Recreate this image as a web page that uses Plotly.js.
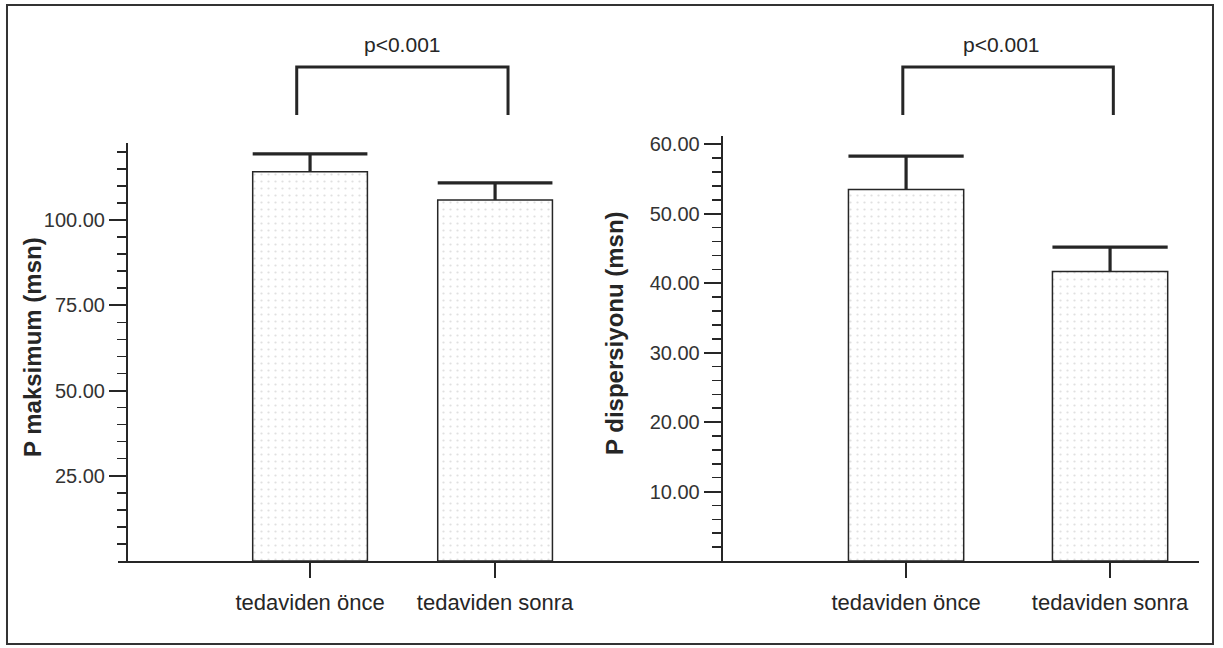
<!DOCTYPE html>
<html>
<head>
<meta charset="utf-8">
<script src="https://cdn.plot.ly/plotly-3.0.1.min.js"></script>
<style>html,body{margin:0;padding:0;background:#fff}#chart{width:1223px;height:648px}</style>
</head>
<body>
<div id="chart"></div>
<script>
// ---- data ----
var categories = ["tedaviden önce", "tedaviden sonra"];
var pMaxMean = [114.2, 105.9];
var pMaxErr = [5.2, 5.0];
var pDispMean = [53.5, 41.7];
var pDispErr = [4.8, 3.5];
var leftTitle = "P maksimum (msn)";
var rightTitle = "P dispersiyonu (msn)";
var pLabel = "p<0.001";
var leftTicks = [25, 50, 75, 100];
var rightTicks = [10, 20, 30, 40, 50, 60];

// ---- helpers ----
function minorVals(step, max, majors) {
  var v = [];
  for (var t = step; t <= max; t += step) {
    if (majors.indexOf(t) < 0) v.push(t);
  }
  return v;
}
var ink = "#262626";
var font = "Liberation Sans, Arial, Helvetica, sans-serif";

function barTrace(y, xa, ya, width) {
  return {
    type: "bar", x: [0, 1], y: y, xaxis: xa, yaxis: ya, width: width,
    marker: {
      color: "#ffffff",
      line: {color: ink, width: 1.5},
      pattern: {shape: ".", fgcolor: "#e0e0e0", bgcolor: "#ffffff", size: 7, solidity: 0.08}
    },
    hoverinfo: "skip", showlegend: false
  };
}
// error bar "T" (cap + stem) built from mean and error through the axis scale
function errTrace(mean, err, xa, ya, width) {
  var xs = [], ys = [];
  for (var i = 0; i < mean.length; i++) {
    var top = mean[i] + err[i];
    xs.push(i - width / 2, i + width / 2, null, i, i, null);
    ys.push(top, top, null, top, mean[i], null);
  }
  return {type: "scatter", mode: "lines", x: xs, y: ys, xaxis: xa, yaxis: ya,
    line: {color: ink, width: 3.2}, connectgaps: false, hoverinfo: "skip", showlegend: false, cliponaxis: false};
}

var data = [
  barTrace(pMaxMean, "x", "y", 0.62),
  barTrace(pDispMean, "x2", "y2", 0.565),
  errTrace(pMaxMean, pMaxErr, "x", "y", 0.62),
  errTrace(pDispMean, pDispErr, "x2", "y2", 0.565)
];

var yBot = 0.13426;
function xAxis(domain, range, anchor) {
  return {
    domain: domain, range: range, anchor: anchor,
    tickmode: "array", tickvals: [0, 1], ticktext: categories,
    showline: true, linecolor: ink, linewidth: 2,
    ticks: "outside", ticklen: 15, tickwidth: 2, tickcolor: ink, ticklabelstandoff: 6,
    tickfont: {family: font, size: 22, color: ink},
    showgrid: false, zeroline: false, fixedrange: true
  };
}
function yAxis(domain, range, pos, majors, step, max) {
  return {
    domain: domain, range: range, anchor: "free", position: pos,
    tickmode: "array", tickvals: majors, tickformat: ".2f",
    showline: true, linecolor: ink, linewidth: 2,
    ticks: "outside", ticklen: 17, tickwidth: 2, tickcolor: ink,
    tickfont: {family: font, size: 20, color: "#333"},
    minor: {tickmode: "array", tickvals: minorVals(step, max, majors), ticks: "outside",
      ticklen: 9, tickwidth: 1.5, tickcolor: ink, showgrid: false},
    showgrid: false, zeroline: false, fixedrange: true
  };
}

function bracket(xa, x0, x1) {
  return {type: "path", xref: xa, yref: "paper",
    path: "M " + x0 + " 0.8225 L " + x0 + " 0.8966 L " + x1 + " 0.8966 L " + x1 + " 0.8225",
    line: {color: ink, width: 3}};
}

var layout = {
  width: 1223, height: 648,
  margin: {l: 0, r: 0, t: 0, b: 0},
  paper_bgcolor: "#ffffff", plot_bgcolor: "rgba(0,0,0,0)",
  showlegend: false, barmode: "overlay",
  xaxis: xAxis([0.09648, 0.4865], [-1.038, 1.54], "y"),
  xaxis2: xAxis([0.4865, 0.98038], [-1.525, 1.436], "y2"),
  yaxis: yAxis([yBot, 0.77932], [0, 122.6], 0.10384, leftTicks, 5, 120),
  yaxis2: yAxis([yBot, 0.79012], [0, 61.2], 0.5901, rightTicks, 2, 60),
  shapes: [
    {type: "rect", xref: "paper", yref: "paper", x0: 0.00572, x1: 0.99182, y0: 0.00617, y1: 0.9923,
      line: {color: "#333", width: 2}},
    bracket("x", -0.072, 1.07),
    bracket("x2", -0.016, 1.016)
  ],
  annotations: [
    {text: pLabel, xref: "x", yref: "paper", x: 0.5, y: 1 - 45 / 648, xanchor: "center", yanchor: "middle",
      showarrow: false, font: {family: font, size: 21, color: ink}},
    {text: pLabel, xref: "x2", yref: "paper", x: 0.47, y: 1 - 45 / 648, xanchor: "center", yanchor: "middle",
      showarrow: false, font: {family: font, size: 21, color: ink}},
    {text: "<b>" + leftTitle + "</b>", xref: "paper", yref: "paper", x: 32 / 1223, y: 1 - 347 / 648,
      xanchor: "center", yanchor: "middle",
      textangle: -90, showarrow: false, font: {family: font, size: 24, color: ink}},
    {text: "<b>" + rightTitle + "</b>", xref: "paper", yref: "paper", x: 615 / 1223, y: 1 - 333 / 648,
      xanchor: "center", yanchor: "middle",
      textangle: -90, showarrow: false, font: {family: font, size: 24, color: ink}}
  ]
};

Plotly.newPlot("chart", data, layout, {staticPlot: true, displayModeBar: false});
</script>
</body>
</html>
